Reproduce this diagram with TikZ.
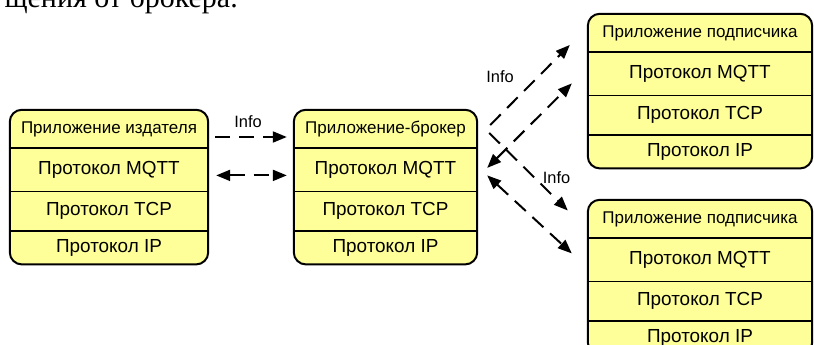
\documentclass[tikz,border=0pt]{standalone}
\usepackage{fontspec}
\setmainfont{Liberation Sans}
\newfontfamily\captionserif{Liberation Serif}
\usetikzlibrary{arrows.meta, positioning, fit, backgrounds}
\definecolor{stackfill}{HTML}{FFFF99}
\definecolor{stackline}{HTML}{000000}

\begin{document}
\begin{tikzpicture}[
    x=1pt, y=-1pt,
    every node/.style={font=\fontsize{18.9pt}{22pt}\selectfont},
    hrow/.style={rectangle, inner sep=0pt, minimum height=38pt, font=\fontsize{17pt}{20pt}\selectfont},
    mrow/.style={rectangle, inner sep=0pt, minimum height=43pt},
    trow/.style={rectangle, inner sep=0pt, minimum height=39pt},
    irow/.style={rectangle, inner sep=0pt, minimum height=33pt},
    stackframe/.style={rectangle, rounded corners=12pt, draw=stackline, fill=stackfill, line width=2pt, inner sep=0pt},
    divider/.style={draw=stackline, line width=1.5pt},
    flow/.style={-{Triangle[length=14pt, width=11pt]}, line width=2pt, dash pattern=on 15pt off 9pt},
    biflow/.style={flow, {Triangle[length=14pt, width=11pt]}-{Triangle[length=14pt, width=11pt]}},
    flab/.style={font=\fontsize{16.4pt}{19pt}\selectfont, inner sep=0pt}
]
\useasboundingbox (0,0) rectangle (814,345);

% Cut-off line of text above the figure
\node[anchor=base east, inner sep=0pt, font=\captionserif\fontsize{30pt}{32pt}\selectfont] (cut) at (238,8) {щения от брокера.};

% Publisher stack
\begin{scope}[nodes={minimum width=198pt}]
\node[hrow] (pub-app) at (109,129) {Приложение издателя};
\node[mrow, below=0pt of pub-app] (pub-mqtt) {Протокол MQTT};
\node[trow, below=0pt of pub-mqtt] (pub-tcp) {Протокол TCP};
\node[irow, below=0pt of pub-tcp] (pub-ip) {Протокол IP};
\end{scope}

% Broker stack
\begin{scope}[nodes={minimum width=183pt}]
\node[hrow] (brk-app) at (385.5,129) {Приложение-брокер};
\node[mrow, below=0pt of brk-app] (brk-mqtt) {Протокол MQTT};
\node[trow, below=0pt of brk-mqtt] (brk-tcp) {Протокол TCP};
\node[irow, below=0pt of brk-tcp] (brk-ip) {Протокол IP};
\end{scope}

% Subscriber stacks
\begin{scope}[nodes={minimum width=224pt}]
\node[hrow] (subA-app) at (700,33) {Приложение подписчика};
\node[mrow, below=0pt of subA-app] (subA-mqtt) {Протокол MQTT};
\node[trow, below=0pt of subA-mqtt] (subA-tcp) {Протокол TCP};
\node[irow, below=0pt of subA-tcp] (subA-ip) {Протокол IP};

\node[hrow] (subB-app) at (700,219) {Приложение подписчика};
\node[mrow, below=0pt of subB-app] (subB-mqtt) {Протокол MQTT};
\node[trow, below=0pt of subB-mqtt] (subB-tcp) {Протокол TCP};
\node[irow, below=0pt of subB-tcp] (subB-ip) {Протокол IP};
\end{scope}

% Rounded frames behind the rows
\begin{scope}[on background layer]
\node[stackframe, fit=(pub-app)(pub-ip)] (pub) {};
\node[stackframe, fit=(brk-app)(brk-ip)] (brk) {};
\node[stackframe, fit=(subA-app)(subA-ip)] (subA) {};
\node[stackframe, fit=(subB-app)(subB-ip)] (subB) {};
\end{scope}

% Row dividers
\draw[divider] (pub-app.south west) -- (pub-app.south east) (pub-mqtt.south west) -- (pub-mqtt.south east) (pub-tcp.south west) -- (pub-tcp.south east);
\draw[divider] (brk-app.south west) -- (brk-app.south east) (brk-mqtt.south west) -- (brk-mqtt.south east) (brk-tcp.south west) -- (brk-tcp.south east);
\draw[divider] (subA-app.south west) -- (subA-app.south east) (subA-mqtt.south west) -- (subA-mqtt.south east) (subA-tcp.south west) -- (subA-tcp.south east);
\draw[divider] (subB-app.south west) -- (subB-app.south east) (subB-mqtt.south west) -- (subB-mqtt.south east) (subB-tcp.south west) -- (subB-tcp.south east);

% Publisher to broker
\draw[flow] ([xshift=7pt, yshift=-8pt]pub-app.east) -- ([xshift=-7pt, yshift=-8pt]brk-app.west)
    node[flab, midway, above=8pt, xshift=-3pt] {Info};
\draw[biflow] ([xshift=8pt, yshift=-5.5pt]pub-mqtt.east) -- ([xshift=-7pt, yshift=-5.5pt]brk-mqtt.west);

% Broker to upper subscriber
\draw[flow] ([xshift=13pt, yshift=4pt]brk-app.east) -- ([xshift=-18pt, yshift=-12pt]subA-app.west)
    node[flab, midway, xshift=-30pt, yshift=8pt] {Info};
\draw[biflow] ([xshift=10pt, yshift=2pt]brk-mqtt.east) -- ([xshift=-16pt, yshift=-9.5pt]subA-mqtt.west);

% Broker to lower subscriber
\draw[flow] ([xshift=12pt, yshift=-4pt]brk-app.east) -- ([xshift=-20pt, yshift=8.5pt]subB-app.west)
    node[flab, midway, xshift=28pt, yshift=-6pt] {Info};
\draw[biflow] ([xshift=10pt, yshift=-5.5pt]brk-mqtt.east) -- ([xshift=-16pt, yshift=6.5pt]subB-mqtt.west);
\end{tikzpicture}
\end{document}
